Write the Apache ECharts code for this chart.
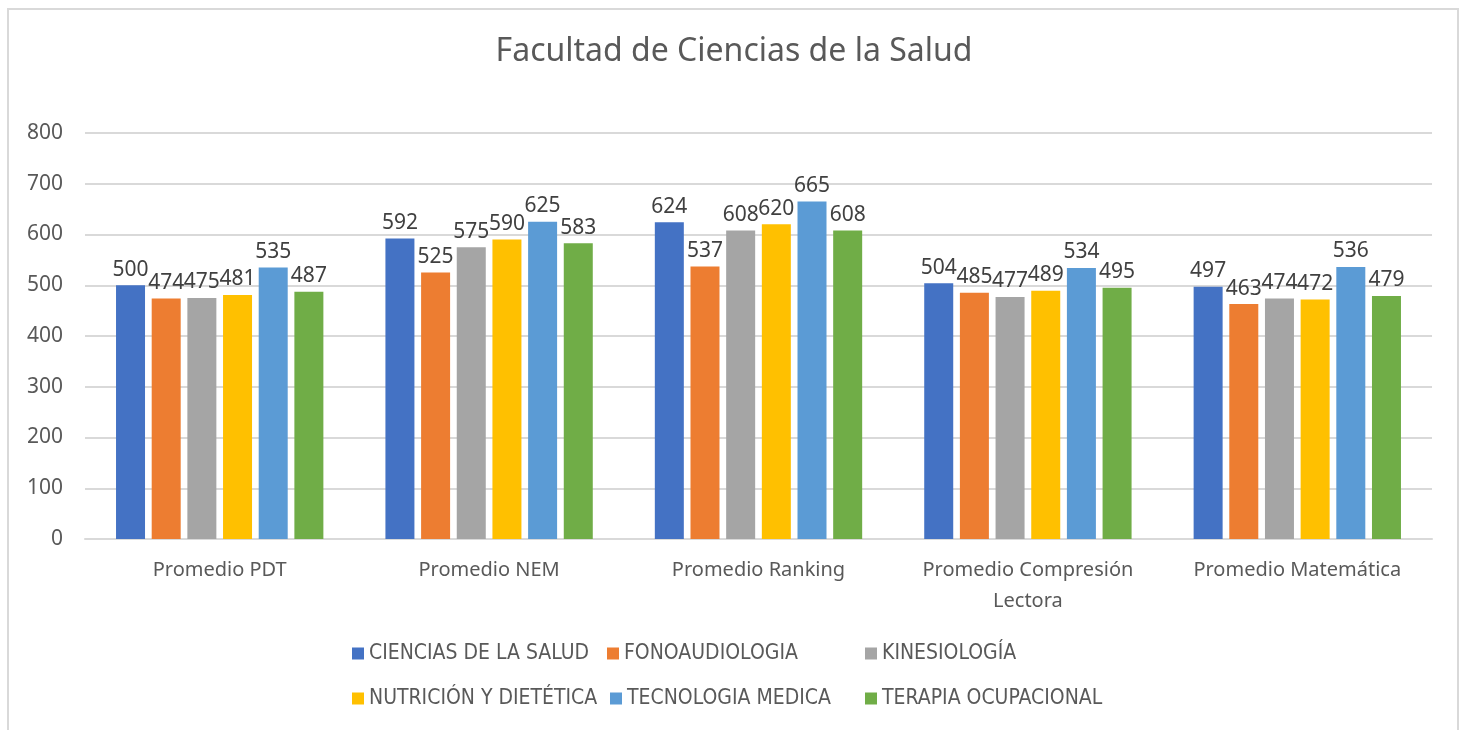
<!DOCTYPE html>
<html>
<head>
<meta charset="utf-8">
<script src="https://cdn.jsdelivr.net/npm/echarts@6/dist/echarts.min.js"></script>
<style>
  html, body { margin: 0; padding: 0; background: #fff; }
  #frame {
    position: absolute; left: 7px; top: 8px; width: 1452px; height: 740px;
    border: 2px solid #d9d9d9; box-sizing: border-box;
  }
  #chart { position: absolute; left: 0; top: 0; width: 1468px; height: 730px; }
</style>
</head>
<body>
<div id="frame"></div>
<div id="chart"></div>
<script>
// categorias del eje x
const categories = ['Promedio PDT', 'Promedio NEM', 'Promedio Ranking', 'Promedio Compresión\nLectora', 'Promedio Matemática'];
const carreras = ['CIENCIAS DE LA SALUD', 'FONOAUDIOLOGIA', 'KINESIOLOGÍA', 'NUTRICIÓN Y DIETÉTICA', 'TECNOLOGIA MEDICA', 'TERAPIA OCUPACIONAL'];
// valores por carrera
const cienciasSalud = [500, 592, 624, 504, 497];
const fonoaudiologia = [474, 525, 537, 485, 463];
const kinesiologia = [475, 575, 608, 477, 474];
const nutricion = [481, 590, 620, 489, 472];
const tecnologia = [535, 625, 665, 534, 536];
const terapia = [487, 583, 608, 495, 479];
const yTicks = [0, 800, 100]; // min, max, intervalo

const colores = ['#4472C4', '#ED7D31', '#A5A5A5', '#FFC000', '#5B9BD5', '#70AD47'];
const valores = [cienciasSalud, fonoaudiologia, kinesiologia, nutricion, tecnologia, terapia];
const fuente = '"Noto Sans", "Open Sans", sans-serif';
const fuenteLeyenda = '"Liberation Sans Narrow", "DejaVu Sans Condensed", sans-serif';

const chart = echarts.init(document.getElementById('chart'));

// una leyenda por item para imitar las columnas de Excel
const legendPos = [[352, 643], [607, 643], [865, 643], [352, 688], [610, 688], [865, 688]];
const legends = carreras.map((name, i) => ({
  data: [name],
  left: legendPos[i][0],
  top: legendPos[i][1],
  padding: 0,
  itemWidth: 12,
  itemHeight: 12,
  itemGap: 6,
  icon: 'rect',
  selectedMode: false,
  textStyle: { fontFamily: fuenteLeyenda, fontSize: 21, color: '#595959' }
}));

const option = {
  color: colores,
  title: {
    text: 'Facultad de Ciencias de la Salud',
    left: 'center',
    top: 31,
    textStyle: { fontFamily: fuente, fontSize: 32, fontWeight: 'normal', color: '#595959' }
  },
  legend: legends,
  grid: { left: 85, right: 36, top: 133, bottom: 191 },
  xAxis: {
    type: 'category',
    data: categories,
    axisTick: { show: false },
    axisLine: { lineStyle: { color: '#d9d9d9', width: 2 } },
    axisLabel: { interval: 0, fontFamily: fuente, fontSize: 20, color: '#595959', margin: 16, lineHeight: 31 }
  },
  yAxis: {
    type: 'value',
    min: yTicks[0],
    max: yTicks[1],
    interval: yTicks[2],
    axisLine: { show: false },
    axisTick: { show: false },
    splitLine: { lineStyle: { color: '#d9d9d9', width: 2 } },
    axisLabel: { fontFamily: fuente, fontSize: 21, color: '#595959', margin: 22 }
  },
  series: carreras.map((name, i) => ({
    name: name,
    type: 'bar',
    data: valores[i],
    barWidth: 29,
    barGap: '23%',
    label: {
      show: true,
      position: 'top',
      distance: 5,
      fontFamily: fuente,
      fontSize: 21,
      color: '#404040'
    }
  }))
};

chart.setOption(option);
</script>
</body>
</html>
